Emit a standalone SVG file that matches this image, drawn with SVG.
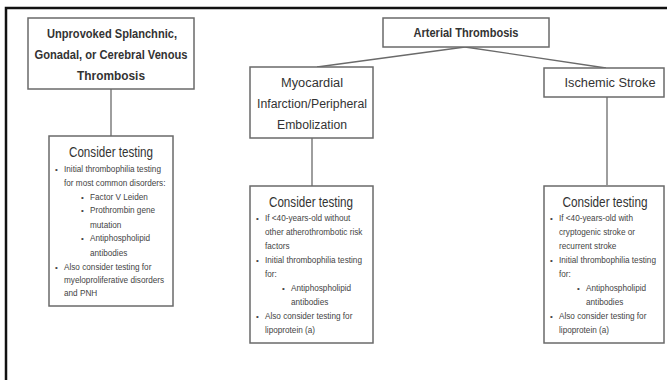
<svg xmlns="http://www.w3.org/2000/svg" width="667" height="380" viewBox="0 0 667 380">
<style>
.box{fill:#fff;stroke:#6a6a6a;stroke-width:1.5}
text{font-family:"Liberation Sans",Arial,sans-serif;fill:#333}
.hd{font-weight:bold;font-size:12.5px;text-anchor:middle}
.hn{font-size:12.5px;text-anchor:middle}
.ct{font-size:14.5px;text-anchor:middle}
.bd{font-size:8.2px;fill:#444}
.bl{font-size:8px;fill:#444}
.con{stroke:#6a6a6a;stroke-width:1.3;fill:none}
.frame{stroke:#111;stroke-width:2.5;fill:none}
</style>
<rect width="667" height="380" fill="#fff"/>
<path class="frame" d="M6,380 V8 H667"/>
<g id="connectors">
<line class="con" x1="111" y1="89" x2="111" y2="136"/>
<line class="con" x1="465" y1="47" x2="317" y2="67"/>
<line class="con" x1="465" y1="47" x2="606" y2="68"/>
<line class="con" x1="312" y1="138" x2="312" y2="186"/>
<line class="con" x1="607" y1="97" x2="607" y2="185"/>
</g>
<g id="venous">
<rect class="box" x="28" y="18" width="166" height="71"/>
<text class="hd" x="112" y="38" textLength="130" lengthAdjust="spacingAndGlyphs">Unprovoked Splanchnic,</text>
<text class="hd" x="111" y="59" textLength="153" lengthAdjust="spacingAndGlyphs">Gonadal, or Cerebral Venous</text>
<text class="hd" x="111" y="80" textLength="68" lengthAdjust="spacingAndGlyphs">Thrombosis</text>
</g>
<g id="venous-testing">
<rect class="box" x="49" y="136" width="124" height="170"/>
<text class="ct" x="111" y="157" textLength="84" lengthAdjust="spacingAndGlyphs">Consider testing</text>
<text class="bl" x="55" y="172">•</text><text class="bd" x="64" y="172">Initial thrombophilia testing</text>
<text class="bd" x="64" y="186">for most common disorders:</text>
<text class="bl" x="81" y="200">•</text><text class="bd" x="90" y="200">Factor V Leiden</text>
<text class="bl" x="81" y="213">•</text><text class="bd" x="90" y="213">Prothrombin  gene</text>
<text class="bd" x="90" y="228">mutation</text>
<text class="bl" x="81" y="241">•</text><text class="bd" x="90" y="241">Antiphospholipid</text>
<text class="bd" x="90" y="256">antibodies</text>
<text class="bl" x="55" y="270">•</text><text class="bd" x="64" y="270">Also consider testing for</text>
<text class="bd" x="64" y="283">myeloproliferative disorders</text>
<text class="bd" x="64" y="296">and PNH</text>
</g>
<g id="arterial">
<rect class="box" x="383" y="18" width="166" height="29"/>
<text class="hd" x="466" y="37" textLength="105" lengthAdjust="spacingAndGlyphs">Arterial Thrombosis</text>
</g>
<g id="myocardial">
<rect class="box" x="250" y="67" width="123" height="71"/>
<text class="hn" x="312" y="87" textLength="62" lengthAdjust="spacingAndGlyphs">Myocardial</text>
<text class="hn" x="312" y="108" textLength="110" lengthAdjust="spacingAndGlyphs">Infarction/Peripheral</text>
<text class="hn" x="312" y="129" textLength="70" lengthAdjust="spacingAndGlyphs">Embolization</text>
</g>
<g id="stroke">
<rect class="box" x="544" y="68" width="120" height="29"/>
<text class="hn" x="610" y="87" textLength="91" lengthAdjust="spacingAndGlyphs">Ischemic Stroke</text>
</g>
<g id="myocardial-testing">
<rect class="box" x="250" y="186" width="123" height="157"/>
<text class="ct" x="311" y="207" textLength="84" lengthAdjust="spacingAndGlyphs">Consider testing</text>
<text class="bl" x="256" y="221">•</text><text class="bd" x="265" y="221">If &lt;40-years-old without</text>
<text class="bd" x="265" y="235">other atherothrombotic  risk</text>
<text class="bd" x="265" y="249">factors</text>
<text class="bl" x="256" y="263">•</text><text class="bd" x="265" y="263">Initial thrombophilia  testing</text>
<text class="bd" x="265" y="277">for:</text>
<text class="bl" x="282" y="291">•</text><text class="bd" x="291" y="291">Antiphospholipid</text>
<text class="bd" x="291" y="305">antibodies</text>
<text class="bl" x="256" y="319">•</text><text class="bd" x="265" y="319">Also consider testing for</text>
<text class="bd" x="265" y="333">lipoprotein (a)</text>
</g>
<g id="stroke-testing">
<rect class="box" x="544" y="186" width="120" height="157"/>
<text class="ct" x="605" y="207" textLength="85" lengthAdjust="spacingAndGlyphs">Consider testing</text>
<text class="bl" x="550" y="221">•</text><text class="bd" x="559" y="221">If &lt;40-years-old with</text>
<text class="bd" x="559" y="235">cryptogenic stroke or</text>
<text class="bd" x="559" y="249">recurrent stroke</text>
<text class="bl" x="550" y="263">•</text><text class="bd" x="559" y="263">Initial thrombophilia testing</text>
<text class="bd" x="559" y="277">for:</text>
<text class="bl" x="577" y="291">•</text><text class="bd" x="586" y="291">Antiphospholipid</text>
<text class="bd" x="586" y="305">antibodies</text>
<text class="bl" x="550" y="319">•</text><text class="bd" x="559" y="319">Also consider testing for</text>
<text class="bd" x="559" y="333">lipoprotein (a)</text>
</g>
</svg>
